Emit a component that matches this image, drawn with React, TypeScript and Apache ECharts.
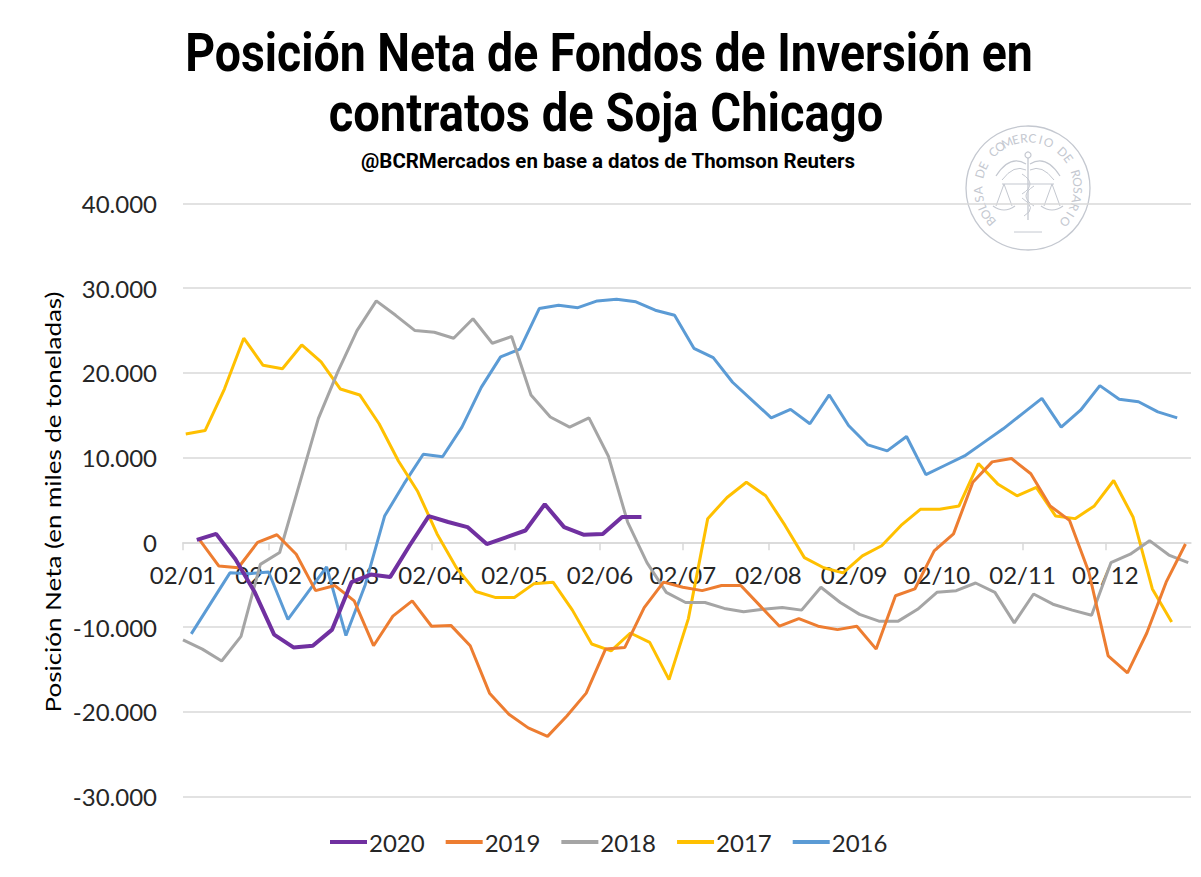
import React, { useEffect, useRef } from "react";
import * as echarts from "echarts";

// ---------- data ----------
const MONTH_DAYS = [0, 31, 59, 90, 120, 151, 181, 212, 243, 273, 304, 334];
const MONTH_LABELS = ["02/01", "02/02", "02/03", "02/04", "02/05", "02/06", "02/07", "02/08", "02/09", "02/10", "02/11", "02/12"];

const YEARS = ["2020", "2019", "2018", "2017", "2016"];
// day (counted from 2 January) of each year's first weekly report
const START_DAYS = [5, 6, 0, 1, 3];

const s2020 = [300, 1000, -2000, -5900, -10900, -12400, -12200, -10300, -4700, -3800, -4100, -400, 3100, 2400, 1800, -200, 600, 1400, 4500, 1800, 900, 1000, 3000, 3000];
const s2019 = [300, -2800, -3000, 0, 900, -1400, -5700, -5100, -6900, -12200, -8700, -6900, -9900, -9800, -12200, -17800, -20300, -21900, -22900, -20500, -17800, -12600, -12400, -7700, -4700, -5300, -5700, -5100, -5100, -7500, -9900, -9000, -9900, -10300, -9900, -12600, -6300, -5500, -1000, 1000, 7100, 9500, 9900, 8100, 4300, 2600, -3500, -13400, -15400, -10700, -4700, -200];
const s2018 = [-11500, -12600, -14000, -11100, -2600, -1200, 6700, 14600, 20100, 25000, 28500, 26800, 25000, 24800, 24100, 26400, 23500, 24300, 17400, 14800, 13600, 14700, 10200, 2400, -2400, -5900, -7100, -7100, -7800, -8200, -7900, -7700, -8000, -5300, -7100, -8500, -9300, -9300, -7900, -5900, -5700, -4800, -5900, -9500, -6100, -7300, -8000, -8600, -2400, -1400, 200, -1500, -2400];
const s2017 = [12800, 13200, 18100, 24100, 20900, 20500, 23300, 21300, 18100, 17400, 14000, 9600, 6000, 1000, -3000, -5800, -6500, -6500, -4900, -4700, -8000, -12000, -12800, -10700, -11800, -16200, -9000, 2800, 5300, 7100, 5500, 2000, -1800, -3000, -3600, -1600, -400, 2000, 3900, 3900, 4300, 9300, 6900, 5500, 6500, 3100, 2800, 4300, 7300, 3000, -5500, -9400];
const s2016 = [-10800, -7200, -3600, -3700, -3500, -9100, -6000, -2900, -11000, -5000, 3100, 6900, 10400, 10100, 13600, 18300, 21900, 22800, 27600, 28000, 27700, 28500, 28700, 28400, 27400, 26800, 22900, 21800, 18900, 16800, 14700, 15700, 14000, 17400, 13800, 11500, 10800, 12500, 8000, 9100, 10200, 11800, 13400, 15200, 17000, 13600, 15600, 18500, 16900, 16600, 15400, 14700];
const SERIES_VALUES = [s2020, s2019, s2018, s2017, s2016];
const COLORS = ["#7030A0", "#ED7D31", "#A5A5A5", "#FFC000", "#5B9BD5"];

const Y_MIN = -30000;
const Y_MAX = 40000;
const Y_STEP = 10000;

const TITLE_1 = "Posición Neta de Fondos de Inversión en";
const TITLE_2 = "contratos de Soja Chicago";
const SUBTITLE = "@BCRMercados en base a datos de Thomson Reuters";
const Y_NAME = "Posición Neta (en miles de toneladas)";
const SEAL_TEXT = "BOLSA DE COMERCIO DE ROSARIO";

const fmt = (v: number) => {
  const s = String(Math.abs(v)).replace(/\B(?=(\d{3})+(?!\d))/g, ".");
  return (v < 0 ? "-" : "") + s;
};

const measure = (text: string, font: string) => {
  const ctx = document.createElement("canvas").getContext("2d");
  if (!ctx) return 1;
  ctx.font = font;
  return ctx.measureText(text).width || 1;
};

export default function App() {
  const ref = useRef<HTMLDivElement>(null);
  useEffect(() => {
    if (!ref.current) return;
    const chart = echarts.init(ref.current, undefined, { renderer: "svg" });

    const H = 877;
    const gridTop = 203.5;
    const gridBottom = 80.5;
    const plotH = H - gridTop - gridBottom;
    const zeroY = gridTop + (plotH * Y_MAX) / (Y_MAX - Y_MIN);
    const axisOffset = -(H - gridBottom - zeroY); // lift the x axis up to the zero line

    const TF = "Roboto";
    const t1Size = 54;
    const t1Scale = 848 / measure(TITLE_1, `bold ${t1Size}px ${TF}`);
    const t2Scale = 555 / measure(TITLE_2, `bold ${t1Size}px ${TF}`);
    const subSize = 21;
    const subScale = 495 / measure(SUBTITLE, `bold ${subSize}px ${TF}`);
    const yNameSize = 21;
    const yNameScale = 421 / measure(Y_NAME, `${yNameSize}px Lato`);

    // seal watermark
    const sealColor = "#c4c8d0";
    const sealChildren: any[] = [
      { type: "circle", shape: { cx: 0, cy: 0, r: 62 }, style: { fill: "none", stroke: sealColor, lineWidth: 1.3 } },
      { type: "line", shape: { x1: 0, y1: -30, x2: 0, y2: 32 }, style: { stroke: sealColor, lineWidth: 1.3 } },
      { type: "circle", shape: { cx: 0, cy: -33, r: 3 }, style: { fill: "none", stroke: sealColor, lineWidth: 1.2 } },
      { type: "bezierCurve", shape: { x1: -2, y1: -24, x2: -32, y2: -12, cpx1: -18, cpy1: -34 }, style: { fill: "none", stroke: sealColor, lineWidth: 1.2 } },
      { type: "bezierCurve", shape: { x1: 2, y1: -24, x2: 32, y2: -12, cpx1: 18, cpy1: -34 }, style: { fill: "none", stroke: sealColor, lineWidth: 1.2 } },
      { type: "bezierCurve", shape: { x1: -2, y1: -18, x2: -26, y2: -8, cpx1: -14, cpy1: -24 }, style: { fill: "none", stroke: sealColor, lineWidth: 1 } },
      { type: "bezierCurve", shape: { x1: 2, y1: -18, x2: 26, y2: -8, cpx1: 14, cpy1: -24 }, style: { fill: "none", stroke: sealColor, lineWidth: 1 } },
      { type: "line", shape: { x1: -26, y1: -4, x2: 26, y2: -4 }, style: { stroke: sealColor, lineWidth: 1.2 } },
      { type: "polyline", shape: { points: [[-32, 18], [-24, -4], [-16, 18]] }, style: { fill: "none", stroke: sealColor, lineWidth: 1 } },
      { type: "polyline", shape: { points: [[16, 18], [24, -4], [32, 18]] }, style: { fill: "none", stroke: sealColor, lineWidth: 1 } },
      { type: "bezierCurve", shape: { x1: -35, y1: 18, x2: -13, y2: 18, cpx1: -24, cpy1: 26 }, style: { fill: "none", stroke: sealColor, lineWidth: 1.2 } },
      { type: "bezierCurve", shape: { x1: 13, y1: 18, x2: 35, y2: 18, cpx1: 24, cpy1: 26 }, style: { fill: "none", stroke: sealColor, lineWidth: 1.2 } },
      { type: "bezierCurve", shape: { x1: -6, y1: -14, x2: -6, y2: 6, cpx1: 10, cpy1: -4 }, style: { fill: "none", stroke: sealColor, lineWidth: 1 } },
      { type: "bezierCurve", shape: { x1: 6, y1: -2, x2: 6, y2: 18, cpx1: -10, cpy1: 8 }, style: { fill: "none", stroke: sealColor, lineWidth: 1 } },
      { type: "bezierCurve", shape: { x1: -6, y1: 10, x2: -4, y2: 28, cpx1: 10, cpy1: 20 }, style: { fill: "none", stroke: sealColor, lineWidth: 1 } },
      { type: "line", shape: { x1: -14, y1: 44, x2: 14, y2: 44 }, style: { stroke: sealColor, lineWidth: 1 } },
    ];
    const n = SEAL_TEXT.length;
    const a0 = (222 * Math.PI) / 180;
    const a1 = (-42 * Math.PI) / 180;
    for (let i = 0; i < n; i++) {
      const ch = SEAL_TEXT[i];
      if (ch === " ") continue;
      const th = a0 + ((a1 - a0) * i) / (n - 1);
      const r = 50;
      sealChildren.push({
        type: "text",
        x: r * Math.cos(th),
        y: -r * Math.sin(th),
        rotation: th - Math.PI / 2,
        style: { text: ch, fill: sealColor, fontSize: 12, fontFamily: "Lato", align: "center", verticalAlign: "middle" },
      });
    }

    const option: any = {
      animation: false,
      backgroundColor: "#ffffff",
      grid: { left: 183, right: 10, top: gridTop, bottom: gridBottom, containLabel: false },
      xAxis: {
        type: "value",
        min: 0,
        max: 365,
        position: "bottom",
        offset: axisOffset,
        splitLine: { show: false },
        axisLine: { show: true, onZero: false, lineStyle: { color: "#d9d9d9", width: 1.5 } },
        axisTick: { show: true, customValues: MONTH_DAYS, length: 8, lineStyle: { color: "#d9d9d9", width: 1.5 } },
        axisLabel: {
          customValues: MONTH_DAYS,
          formatter: (v: number) => {
            const i = MONTH_DAYS.indexOf(v);
            return i >= 0 ? MONTH_LABELS[i] : "";
          },
          margin: 20,
          color: "#262626",
          fontSize: 24,
          fontFamily: "Lato",
        },
      },
      yAxis: {
        type: "value",
        min: Y_MIN,
        max: Y_MAX,
        interval: Y_STEP,
        axisLine: { show: false, onZero: false },
        axisTick: { show: false },
        splitLine: { lineStyle: { color: "#d9d9d9", width: 1.5 } },
        axisLabel: { formatter: fmt, margin: 26, color: "#262626", fontSize: 24, fontFamily: "Lato" },
      },
      legend: {
        data: YEARS,
        top: 825,
        left: 325,
        icon: "rect",
        itemWidth: 37,
        itemHeight: 4,
        itemGap: 21,
        textStyle: { fontSize: 24, fontFamily: "Lato", color: "#262626", padding: [0, 0, 0, -3] },
      },
      graphic: [
        { type: "group", x: 1028, y: 188, z: 0, silent: true, children: sealChildren },
        {
          type: "text", x: 609, y: 52, scaleX: t1Scale, z: 10,
          style: { text: TITLE_1, fill: "#000", fontSize: t1Size, fontWeight: "bold", fontFamily: TF, align: "center", verticalAlign: "middle" },
        },
        {
          type: "text", x: 606, y: 112, scaleX: t2Scale, z: 10,
          style: { text: TITLE_2, fill: "#000", fontSize: t1Size, fontWeight: "bold", fontFamily: TF, align: "center", verticalAlign: "middle" },
        },
        {
          type: "text", x: 608, y: 161, scaleX: subScale, z: 10,
          style: { text: SUBTITLE, fill: "#000", fontSize: subSize, fontWeight: "bold", fontFamily: TF, align: "center", verticalAlign: "middle" },
        },
        {
          type: "text", x: 53, y: 502, rotation: Math.PI / 2, scaleX: yNameScale, z: 10,
          style: { text: Y_NAME, fill: "#000", fontSize: yNameSize, fontFamily: "Lato", align: "center", verticalAlign: "middle" },
        },
      ],
      series: YEARS.map((name, k) => ({
        name,
        type: "line",
        symbol: "none",
        smooth: false,
        z: 10 - k,
        color: COLORS[k],
        lineStyle: { color: COLORS[k], width: k === 0 ? 4 : 3 },
        data: SERIES_VALUES[k].map((v, i) => [START_DAYS[k] + 7 * i, v]),
      })),
    };
    chart.setOption(option);
    return () => chart.dispose();
  }, []);
  return <div ref={ref} style={{ position: "fixed", left: 0, top: 0, width: 1201, height: 877, background: "#fff" }} />;
}
